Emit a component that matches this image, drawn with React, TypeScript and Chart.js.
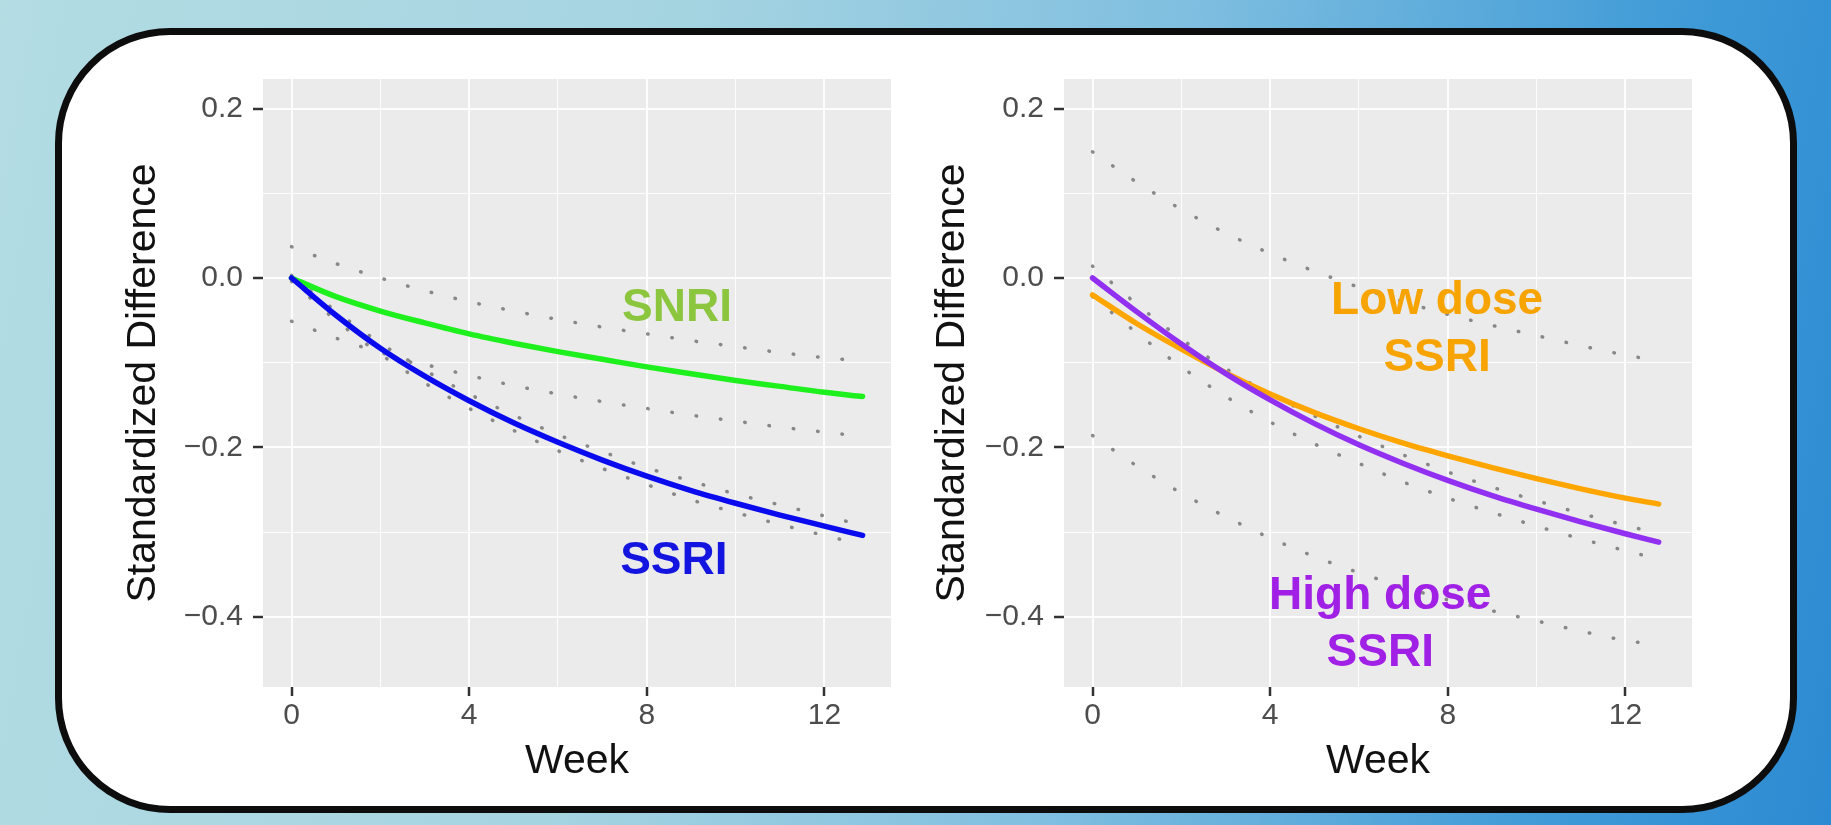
import React, { useEffect, useRef } from "react";
import { Chart, registerables } from "chart.js";

Chart.register(...registerables);

const FONT = '"Liberation Sans", Arial, Helvetica, sans-serif';

// ---------- Data ----------
const weeksLeft = [0, 1, 2, 3, 4, 5, 6, 7, 8, 9, 10, 11, 12, 12.86];
const ssri = [0, -0.044, -0.083, -0.116, -0.145, -0.171, -0.194, -0.215, -0.234, -0.251, -0.266, -0.28, -0.293, -0.304];
const ssriUpper = [0.003, -0.039, -0.077, -0.109, -0.137, -0.162, -0.185, -0.205, -0.224, -0.24, -0.255, -0.268, -0.281, -0.292];
const ssriLower = [-0.004, -0.05, -0.09, -0.124, -0.154, -0.18, -0.204, -0.225, -0.244, -0.262, -0.277, -0.291, -0.304, -0.315];
const snri = [0, -0.022, -0.039, -0.053, -0.066, -0.077, -0.087, -0.096, -0.105, -0.113, -0.121, -0.128, -0.135, -0.14];
const snriUpper = [0.037, 0.017, 0.0, -0.015, -0.028, -0.039, -0.049, -0.058, -0.066, -0.074, -0.081, -0.088, -0.094, -0.098];
const snriLower = [-0.051, -0.071, -0.088, -0.102, -0.115, -0.127, -0.137, -0.146, -0.154, -0.162, -0.169, -0.176, -0.182, -0.187];

const weeksRight = [0, 1, 2, 3, 4, 5, 6, 7, 8, 9, 10, 11, 12, 12.75];
const lowDose = [-0.02, -0.054, -0.084, -0.112, -0.137, -0.159, -0.178, -0.195, -0.21, -0.224, -0.237, -0.249, -0.26, -0.267];
const lowDoseUpper = [0.149, 0.113, 0.081, 0.053, 0.029, 0.008, -0.011, -0.028, -0.043, -0.056, -0.068, -0.08, -0.091, -0.098];
const lowDoseLower = [-0.186, -0.222, -0.254, -0.282, -0.307, -0.329, -0.348, -0.365, -0.38, -0.393, -0.405, -0.417, -0.428, -0.433];
const highDose = [0, -0.04, -0.078, -0.113, -0.144, -0.172, -0.197, -0.219, -0.239, -0.257, -0.273, -0.288, -0.302, -0.312];
const highDoseUpper = [0.014, -0.031, -0.072, -0.107, -0.137, -0.163, -0.187, -0.209, -0.229, -0.247, -0.263, -0.278, -0.292, -0.302];
const highDoseLower = [-0.022, -0.065, -0.105, -0.14, -0.17, -0.196, -0.219, -0.241, -0.26, -0.277, -0.293, -0.308, -0.322, -0.332];

// axis ticks
const yTickValues = [-0.4, -0.3, -0.2, -0.1, 0, 0.1, 0.2];
const yTickLabels = ["−0.4", "", "−0.2", "", "0.0", "", "0.2"];
const xTickValues = [0, 2, 4, 6, 8, 10, 12];
const xTickLabels = ["0", "", "4", "", "8", "", "12"];

// in-plot labels
const labelsLeft = [
  { lines: ["SNRI"], x: 8.68, y: -0.036, color: "#8cc63f" },
  { lines: ["SSRI"], x: 8.61, y: -0.334, color: "#1414e0" },
];
const labelsRight = [
  { lines: ["Low dose", "SSRI"], x: 7.76, y: -0.0275, color: "#f7a300" },
  { lines: ["High dose", "SSRI"], x: 6.48, y: -0.376, color: "#a020e6" },
];

const toPoints = (xs: number[], ys: number[]) => xs.map((x, i) => ({ x, y: ys[i] }));

const solid = (xs: number[], ys: number[], color: string) => ({
  data: toPoints(xs, ys),
  borderColor: color,
  borderWidth: 5.5,
  pointRadius: 0,
  fill: false,
  cubicInterpolationMode: "monotone" as const,
  borderCapStyle: "round" as const,
  borderJoinStyle: "round" as const,
});

const dotted = (xs: number[], ys: number[]) => ({
  data: toPoints(xs, ys),
  borderColor: "rgba(110,110,110,0.8)",
  borderWidth: 3.5,
  borderDash: [0.5, 24],
  borderCapStyle: "round" as const,
  pointRadius: 0,
  fill: false,
  cubicInterpolationMode: "monotone" as const,
});

const panelBg = {
  id: "panelBg",
  beforeDraw(chart: any) {
    const { ctx, chartArea: a } = chart;
    ctx.save();
    ctx.fillStyle = "#ebebeb";
    ctx.fillRect(a.left, a.top, a.right - a.left, a.bottom - a.top);
    ctx.restore();
  },
};

const textPlugin = (anns: { lines: string[]; x: number; y: number; color: string }[]) => ({
  id: "panelText",
  afterDatasetsDraw(chart: any) {
    const { ctx } = chart;
    const xs = chart.scales.x;
    const ys = chart.scales.y;
    ctx.save();
    ctx.font = `bold 46px ${FONT}`;
    ctx.textAlign = "center";
    ctx.textBaseline = "middle";
    anns.forEach((a) => {
      ctx.fillStyle = a.color;
      const px = xs.getPixelForValue(a.x);
      const py = ys.getPixelForValue(a.y);
      a.lines.forEach((line, i) => ctx.fillText(line, px, py + i * 57));
    });
    ctx.restore();
  },
});

const CW = 850;
const CH = 770;

function makeOptions(yTitlePad: number) {
  const isMajorX = (v: number) => v % 4 === 0;
  const isMajorY = (v: number) => Math.abs(Math.round(v * 10)) % 2 === 0;
  return {
    responsive: false,
    animation: false as const,
    devicePixelRatio: 1,
    layout: { padding: { top: 39, right: 19, left: 0, bottom: 0 } },
    plugins: { legend: { display: false }, tooltip: { enabled: false } },
    scales: {
      x: {
        type: "linear" as const,
        min: -0.643,
        max: 13.5,
        afterBuildTicks: (s: any) => {
          s.ticks = xTickValues.map((v) => ({ value: v }));
        },
        afterFit: (s: any) => {
          s.height = 123;
        },
        ticks: {
          autoSkip: false,
          maxRotation: 0,
          padding: 2,
          color: "#4d4d4d",
          font: { family: FONT, size: 30 },
          callback: (v: any) => {
            const i = xTickValues.indexOf(Number(v));
            return i >= 0 ? xTickLabels[i] : "";
          },
        },
        grid: {
          color: "rgba(255,255,255,0.9)",
          lineWidth: (c: any) => (c.tick && isMajorX(c.tick.value) ? 2 : 1),
          tickColor: (c: any) => (c.tick && isMajorX(c.tick.value) ? "#333333" : "rgba(0,0,0,0)"),
          tickLength: 9,
          tickWidth: 2.5,
        },
        border: { display: false },
        title: {
          display: true,
          text: "Week",
          color: "#111111",
          font: { family: FONT, size: 41 },
          padding: { top: 0, bottom: 24 },
        },
      },
      y: {
        type: "linear" as const,
        min: -0.483,
        max: 0.235,
        afterBuildTicks: (s: any) => {
          s.ticks = yTickValues.map((v) => ({ value: v }));
        },
        afterFit: (s: any) => {
          s.width = 203;
        },
        ticks: {
          autoSkip: false,
          padding: 10,
          color: "#4d4d4d",
          font: { family: FONT, size: 30 },
          callback: (v: any) => {
            const i = yTickValues.findIndex((t) => Math.abs(t - Number(v)) < 1e-6);
            return i >= 0 ? yTickLabels[i] : "";
          },
        },
        grid: {
          color: "rgba(255,255,255,0.9)",
          lineWidth: (c: any) => (c.tick && isMajorY(c.tick.value) ? 2 : 1),
          tickColor: (c: any) => (c.tick && isMajorY(c.tick.value) ? "#333333" : "rgba(0,0,0,0)"),
          tickLength: 10,
          tickWidth: 2.5,
        },
        border: { display: false },
        title: {
          display: true,
          text: "Standardized Difference",
          color: "#111111",
          font: { family: FONT, size: 41 },
          padding: { top: yTitlePad, bottom: 0 },
        },
      },
    },
  };
}

function Panel(props: { left: number; top: number; datasets: any[]; labels: any[]; yTitlePad: number }) {
  const ref = useRef<HTMLCanvasElement>(null);
  useEffect(() => {
    const chart = new Chart(ref.current as HTMLCanvasElement, {
      type: "line",
      data: { datasets: props.datasets },
      options: makeOptions(props.yTitlePad) as any,
      plugins: [panelBg, textPlugin(props.labels)],
    });
    return () => chart.destroy();
  }, []);
  return (
    <canvas
      ref={ref}
      width={CW}
      height={CH}
      style={{ position: "absolute", left: props.left, top: props.top, width: CW, height: CH }}
    />
  );
}

export default function App() {
  const leftSets = [
    solid(weeksLeft, ssri, "#0a0aef"),
    solid(weeksLeft, snri, "#1ef01e"),
    dotted(weeksLeft, snriUpper),
    dotted(weeksLeft, snriLower),
    dotted(weeksLeft, ssriUpper),
    dotted(weeksLeft, ssriLower),
  ];
  const rightSets = [
    solid(weeksRight, highDose, "#9130f0"),
    solid(weeksRight, lowDose, "#ffa500"),
    dotted(weeksRight, lowDoseUpper),
    dotted(weeksRight, lowDoseLower),
    dotted(weeksRight, highDoseUpper),
    dotted(weeksRight, highDoseLower),
  ];
  return (
    <div
      style={{
        position: "fixed",
        left: 0,
        top: 0,
        width: 1831,
        height: 825,
        overflow: "hidden",
        background:
          "linear-gradient(100deg, #b3dce3 0%, #a5d4e1 35%, #80bfe0 60%, #409bd7 85%, #2c8ad2 100%)",
      }}
    >
      <div
        style={{
          position: "absolute",
          left: 55,
          top: 28,
          width: 1742,
          height: 785,
          boxSizing: "border-box",
          border: "7px solid #0d0d0d",
          borderRadius: 115,
          background: "#ffffff",
        }}
      />
      <Panel left={60} top={40} datasets={leftSets} labels={labelsLeft} yTitlePad={59} />
      <Panel left={861} top={40} datasets={rightSets} labels={labelsRight} yTitlePad={67} />
    </div>
  );
}
